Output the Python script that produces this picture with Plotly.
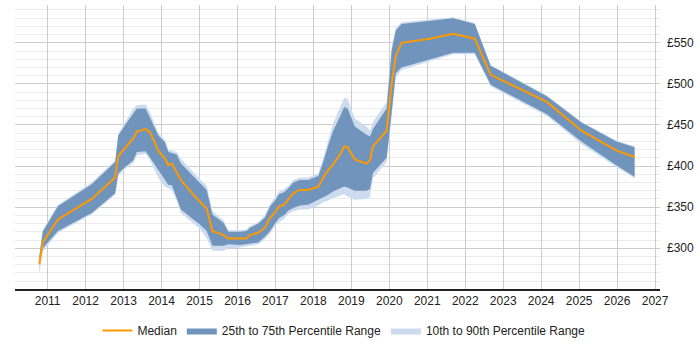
import plotly.graph_objects as go

years = [2010.78, 2010.87, 2011.27, 2012.16, 2012.78, 2012.86, 2013.04, 2013.26, 2013.35, 2013.58,
         2013.70, 2013.92, 2014.09, 2014.18, 2014.27, 2014.40, 2014.51, 2014.84, 2015.01, 2015.19,
         2015.34, 2015.63, 2015.76, 2016.07, 2016.24, 2016.33, 2016.55, 2016.72, 2016.86, 2016.99,
         2017.10, 2017.23, 2017.34, 2017.47, 2017.64, 2017.86, 2018.13, 2018.26, 2018.39, 2018.52,
         2018.70, 2018.81, 2018.90, 2019.09, 2019.40, 2019.49, 2019.57, 2019.93, 2020.06, 2020.17,
         2020.32, 2021.07, 2021.68, 2022.25, 2022.67, 2024.15, 2025.06, 2025.98, 2026.46]

median = [281, 307, 335, 360, 386, 412, 422, 434, 442, 445,
          441, 418, 409, 401, 403, 393, 383, 365, 357, 348,
          321, 316, 312, 312, 312, 316, 319, 325, 337, 344,
          351, 353, 360, 367, 371, 371, 375, 386, 395, 402,
          414, 424, 423, 408, 403, 407, 424, 443, 500, 534,
          550, 555, 561, 555, 511, 478, 443, 419, 411]

p25 = [278, 300, 321, 343, 367, 391, 399, 407, 417, 418,
       410, 395, 384, 377, 377, 362, 347, 335, 329, 321,
       303, 303, 305, 304, 305, 306, 307, 314, 321, 330,
       337, 340, 346, 349, 352, 353, 359, 362, 365, 369,
       373, 375, 374, 370, 370, 372, 392, 410, 465, 513,
       520, 530, 538, 538, 499, 463, 430, 401, 387]

p75 = [290, 320, 351, 378, 405, 437, 450, 465, 470, 470,
       459, 437, 429, 417, 416, 414, 403, 387, 380, 371,
       341, 331, 320, 320, 321, 325, 330, 337, 351, 358,
       366, 368, 373, 380, 383, 383, 388, 405, 425, 443,
       460, 472, 470, 448, 438, 436, 445, 470, 540, 565,
       573, 577, 580, 573, 522, 485, 453, 430, 423]

p10 = [268, 296, 319, 341, 365, 388, 396, 404, 413, 415,
       407, 385, 375, 373, 371, 358, 343, 330, 324, 312,
       297, 297, 300, 301, 302, 303, 305, 311, 318, 327,
       332, 336, 342, 345, 347, 347, 352, 356, 358, 361,
       364, 366, 363, 359, 360, 362, 385, 405, 460, 508,
       517, 528, 536, 536, 497, 461, 427, 399, 385]

p90 = [291, 322, 353, 380, 407, 440, 453, 470, 474, 475,
       465, 440, 432, 420, 419, 417, 409, 392, 384, 376,
       345, 334, 322, 322, 323, 327, 332, 340, 354, 362,
       369, 372, 376, 383, 386, 386, 391, 410, 432, 452,
       471, 483, 482, 458, 448, 443, 454, 478, 545, 568,
       575, 578, 581, 574, 523, 486, 454, 431, 424]

y_ticks = [300, 350, 400, 450, 500, 550]
y_tick_labels = ["£300", "£350", "£400", "£450", "£500", "£550"]

DARK = "#7094bc"
LIGHT = "#ccdcee"
ORANGE = "#ff9900"
FONT = "Liberation Sans, Arial, sans-serif"

fig = go.Figure()
fig.add_trace(go.Scatter(x=years, y=p90, mode="lines", line=dict(width=0, color=LIGHT),
                         showlegend=False, hoverinfo="skip"))
fig.add_trace(go.Scatter(x=years, y=p10, mode="lines", line=dict(width=0, color=LIGHT),
                         fill="tonexty", fillcolor=LIGHT, name="10th to 90th Percentile Range",
                         legendrank=3))
fig.add_trace(go.Scatter(x=years, y=p75, mode="lines", line=dict(width=0, color=DARK),
                         showlegend=False, hoverinfo="skip"))
fig.add_trace(go.Scatter(x=years, y=p25, mode="lines", line=dict(width=0, color=DARK),
                         fill="tonexty", fillcolor=DARK, name="25th to 75th Percentile Range",
                         legendrank=2))
fig.add_trace(go.Scatter(x=years, y=median, mode="lines", line=dict(width=2, color=ORANGE),
                         name="Median", legendrank=1))

fig.update_layout(
    width=700, height=350,
    margin=dict(l=15, r=40, t=5, b=58),
    paper_bgcolor="white", plot_bgcolor="white",
    font=dict(family=FONT, size=12, color="#222"),
    showlegend=True,
    legend=dict(orientation="h", x=0.51, xanchor="center", y=-0.146, yanchor="middle",
                font=dict(size=12, color="#222"), traceorder="normal"),
    xaxis=dict(range=[2010.14, 2027.13], tick0=2011, dtick=1, tickformat="d",
               showgrid=True, gridcolor="#cccccc", gridwidth=1,
               showline=True, linecolor="#222", linewidth=1.5,
               ticks="", zeroline=False),
    yaxis=dict(range=[250.4, 596], side="right", tickmode="array",
               tickvals=y_ticks, ticktext=y_tick_labels,
               showgrid=True, gridcolor="#cccccc", gridwidth=1,
               minor=dict(dtick=10, tick0=250, showgrid=True, gridcolor="#ebebeb"),
               zeroline=False, showline=False, ticks="", ticklabelstandoff=6),
)

fig.write_html("out.html")
